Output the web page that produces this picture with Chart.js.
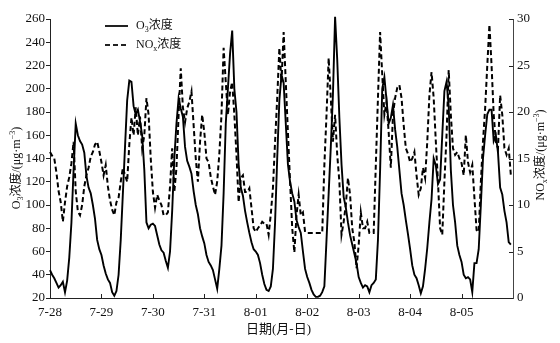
<!DOCTYPE html>
<html>
<head>
<meta charset="utf-8">
<script src="https://cdn.jsdelivr.net/npm/chart.js@4"></script>
<style>
  html, body { margin: 0; padding: 0; background: #fff; }
  #wrap { width: 560px; height: 343px; position: relative; }
</style>
</head>
<body>
<div id="wrap"><canvas id="ozoneChart"></canvas></div>
<script>
// day labels on the x axis, one per 24 hours
const dayLabels = ['7-28', '7-29', '7-30', '7-31', '8-01', '8-02', '8-03', '8-04', '8-05'];
const hoursTotal = 216;

// hourly O3 concentration (μg·m-3), left axis
const o3Values = [
  44, 40, 37, 33, 29, 31, 34, 25, 35, 55, 85, 130, 170, 160, 155, 152, 145, 125, 115, 110, 100, 88, 70, 62,
  57, 48, 41, 36, 33, 25, 22, 26, 40, 70, 110, 150, 190, 207, 206, 185, 178, 182, 172, 160, 130, 85, 80, 83,
  84, 82, 74, 66, 61, 59, 52, 46, 60, 95, 140, 170, 192, 183, 176, 150, 138, 133, 127, 112, 100, 92, 80, 73,
  67, 57, 51, 48, 44, 36, 28, 45, 65, 110, 170, 200, 230, 250, 200, 180, 135, 115, 108, 95, 85, 76, 68, 62,
  60, 57, 50, 40, 32, 27, 26, 30, 45, 85, 140, 190, 212, 205, 170, 135, 120, 110, 103, 87, 81, 76, 60, 45,
  38, 33, 27, 23, 21, 21, 22, 25, 30, 70, 110, 150, 195, 262, 225, 175, 135, 107, 98, 85, 74, 66, 58, 50,
  38, 33, 29, 31, 30, 25, 31, 33, 36, 70, 130, 200, 210, 190, 170, 175, 186, 165, 150, 130, 110, 100, 87, 75,
  62, 48, 40, 37, 31, 24, 30, 45, 63, 85, 105, 140, 134, 118, 122, 160, 198, 206, 185, 130, 100, 85, 65, 57,
  51, 40, 37, 38, 36, 25, 50, 50, 62, 100, 140, 160, 178, 182, 182, 155, 160, 145, 115, 109, 95, 85, 68, 66
];

// hourly NOx concentration (μg·m-3), right axis
const noxValues = [
  15.7, 15.3, 15.0, 13.5, 11.5, 10.3, 8.2, 10.3, 12.0, 13.0, 14.5, 16.8, 11.5, 9.3, 8.9, 10.0, 12.0, 13.2, 14.0, 15.2, 15.7, 16.5, 16.8, 15.8,
  14.6, 13.2, 14.3, 12.0, 10.5, 9.5, 8.9, 10.3, 10.8, 12.5, 14.0, 13.2, 12.5, 16.5, 19.4, 17.5, 20.5, 17.5, 19.5, 16.1, 17.5, 21.5, 19.7, 15.0,
  11.4, 9.7, 11.1, 10.5, 10.0, 8.9, 8.9, 9.2, 12.0, 16.1, 11.4, 14.0, 19.7, 24.7, 20.5, 18.9, 20.4, 21.1, 22.2, 18.6, 15.0, 12.5, 16.8, 19.7,
  17.8, 15.0, 14.6, 13.0, 12.0, 11.1, 12.5, 15.5, 19.7, 26.9, 23.2, 19.7, 22.2, 23.2, 19.7, 15.4, 10.3, 12.9, 13.2, 11.4, 11.4, 11.8, 9.7, 7.5,
  7.1, 7.5, 7.8, 8.2, 8.0, 8.0, 6.8, 9.0, 11.8, 16.8, 21.5, 26.9, 23.2, 28.6, 23.2, 17.8, 12.5, 7.5, 4.9, 8.9, 11.1, 8.9, 9.2, 7.1,
  7.0, 7.0, 7.0, 7.0, 7.0, 7.0, 7.0, 7.0, 14.3, 19.7, 25.8, 21.5, 16.8, 19.7, 15.4, 12.5, 6.8, 8.2, 10.0, 12.9, 11.1, 7.5, 6.0, 3.2,
  5.7, 9.2, 7.5, 7.5, 8.2, 7.0, 7.0, 7.0, 14.3, 21.5, 28.6, 24.0, 19.7, 21.1, 17.8, 14.0, 19.7, 21.5, 22.6, 22.9, 21.5, 18.6, 16.1, 15.5,
  14.6, 15.0, 15.7, 13.2, 11.1, 11.8, 14.0, 12.9, 16.8, 21.8, 24.3, 21.5, 16.8, 12.5, 7.5, 6.8, 12.5, 17.5, 24.5, 19.7, 16.1, 15.4, 15.7, 15.0,
  14.5, 13.2, 17.5, 14.6, 13.5, 14.3, 10.8, 7.3, 7.1, 12.5, 16.8, 20.4, 25.0, 29.4, 25.0, 19.7, 16.8, 16.1, 21.8, 19.7, 16.1, 15.4, 16.1, 13.2
];

const serif = "'Liberation Serif', 'Noto Sans CJK SC', serif";

// draws text made of pieces with sub/superscripts, centred on (x, y)
function drawRich(ctx, parts, x, y, size) {
  const small = Math.round(size * 0.7);
  let total = 0;
  parts.forEach(p => {
    ctx.font = (p.sub || p.sup ? small : size) + 'px ' + serif;
    p.w = ctx.measureText(p.t).width;
    total += p.w;
  });
  let cx = x - total / 2;
  ctx.textBaseline = 'middle';
  ctx.textAlign = 'left';
  parts.forEach(p => {
    ctx.font = (p.sub || p.sup ? small : size) + 'px ' + serif;
    let dy = 0;
    if (p.sub) dy = size * 0.3;
    if (p.sup) dy = -size * 0.3;
    ctx.fillText(p.t, cx, y + dy);
    cx += p.w;
  });
}

function drawRichLeft(ctx, parts, x, y, size) {
  const small = Math.round(size * 0.7);
  let cx = x;
  ctx.textBaseline = 'middle';
  ctx.textAlign = 'left';
  parts.forEach(p => {
    ctx.font = (p.sub || p.sup ? small : size) + 'px ' + serif;
    let dy = 0;
    if (p.sub) dy = size * 0.3;
    if (p.sup) dy = -size * 0.3;
    ctx.fillText(p.t, cx, y + dy);
    cx += ctx.measureText(p.t).width;
  });
}

const decorPlugin = {
  id: 'decor',
  afterDraw(chart) {
    const ctx = chart.ctx;
    const area = chart.chartArea;
    const xs = chart.scales.x;
    const yr = chart.scales.y1;
    ctx.save();
    ctx.strokeStyle = '#222';
    ctx.lineWidth = 1;

    // inward ticks on bottom axis
    xs.ticks.forEach(t => {
      if (t.value <= 0 || t.value >= hoursTotal) return;
      const px = Math.round(xs.getPixelForValue(t.value)) + 0.5;
      ctx.beginPath();
      ctx.moveTo(px, area.bottom);
      ctx.lineTo(px, area.bottom - 4);
      ctx.stroke();
    });
    // inward ticks on right axis
    yr.ticks.forEach(t => {
      if (t.value <= yr.min) return;
      const py = Math.round(yr.getPixelForValue(t.value)) + 0.5;
      ctx.beginPath();
      ctx.moveTo(area.right, py);
      ctx.lineTo(area.right - 4, py);
      ctx.stroke();
    });

    ctx.fillStyle = '#111';
    // legend
    ctx.lineWidth = 2;
    ctx.beginPath();
    ctx.moveTo(105, 26);
    ctx.lineTo(128, 26);
    ctx.stroke();
    ctx.setLineDash([5, 3]);
    ctx.beginPath();
    ctx.moveTo(105, 45);
    ctx.lineTo(129, 45);
    ctx.stroke();
    ctx.setLineDash([]);
    drawRichLeft(ctx, [{ t: 'O' }, { t: '3', sub: true }, { t: '浓度' }], 136, 26, 12);
    drawRichLeft(ctx, [{ t: 'NO' }, { t: 'x', sub: true }, { t: '浓度' }], 136, 45, 12);

    // x axis title
    ctx.font = '13px ' + serif;
    ctx.textAlign = 'center';
    ctx.textBaseline = 'middle';
    ctx.fillText('日期(月-日)', (area.left + area.right) / 2 - 3, 330);

    // left axis title
    ctx.save();
    ctx.translate(17, 168);
    ctx.rotate(-Math.PI / 2);
    drawRich(ctx, [{ t: 'O' }, { t: '3', sub: true }, { t: '浓度/(μg·m' }, { t: '−3', sup: true }, { t: ')' }], 0, 0, 12);
    ctx.restore();

    // right axis title
    ctx.save();
    ctx.translate(541, 155);
    ctx.rotate(-Math.PI / 2);
    drawRich(ctx, [{ t: 'NO' }, { t: 'x', sub: true }, { t: '浓度/(μg·m' }, { t: '−3', sup: true }, { t: ')' }], 0, 0, 12);
    ctx.restore();

    ctx.restore();
  }
};

const tickFont = { family: serif, size: 13 };

new Chart(document.getElementById('ozoneChart'), {
  type: 'line',
  data: {
    datasets: [{
      label: 'O3浓度',
      data: o3Values.map((v, i) => ({ x: i, y: v })),
      yAxisID: 'y',
      borderColor: '#000',
      borderWidth: 1.9,
      pointRadius: 0,
      tension: 0,
      clip: false
    }, {
      label: 'NOx浓度',
      data: noxValues.map((v, i) => ({ x: i, y: v })),
      yAxisID: 'y1',
      borderColor: '#000',
      borderWidth: 2,
      borderDash: [5, 3],
      pointRadius: 0,
      tension: 0,
      clip: false
    }]
  },
  options: {
    responsive: true,
    maintainAspectRatio: false,
    animation: false,
    layout: { padding: { top: 19, left: 0, right: 0, bottom: 0 } },
    plugins: {
      legend: { display: false },
      tooltip: { enabled: false }
    },
    scales: {
      x: {
        type: 'linear',
        min: 0,
        max: hoursTotal,
        afterFit: s => { s.height = 45; },
        afterBuildTicks: s => {
          s.ticks = [];
          for (let v = 0; v <= hoursTotal; v += 24) s.ticks.push({ value: v });
        },
        border: { display: true, color: '#222', width: 1 },
        grid: { drawOnChartArea: false, drawTicks: false },
        ticks: {
          color: '#111',
          font: tickFont,
          padding: 7,
          maxRotation: 0,
          autoSkip: false,
          callback: v => dayLabels[v / 24] || ''
        }
      },
      y: {
        position: 'left',
        min: 20,
        max: 260,
        afterFit: s => { s.width = 50; },
        border: { display: true, color: '#222', width: 1 },
        grid: { drawOnChartArea: false, drawTicks: true, tickLength: 4, color: '#222' },
        ticks: { stepSize: 20, color: '#111', font: tickFont, padding: 1 }
      },
      y1: {
        position: 'right',
        min: 0,
        max: 30,
        afterFit: s => { s.width = 47; },
        border: { display: true, color: '#444', width: 1 },
        grid: { drawOnChartArea: false, drawTicks: false },
        ticks: { stepSize: 5, color: '#111', font: tickFont, padding: 4 }
      }
    }
  },
  plugins: [decorPlugin]
});
</script>
</body>
</html>
